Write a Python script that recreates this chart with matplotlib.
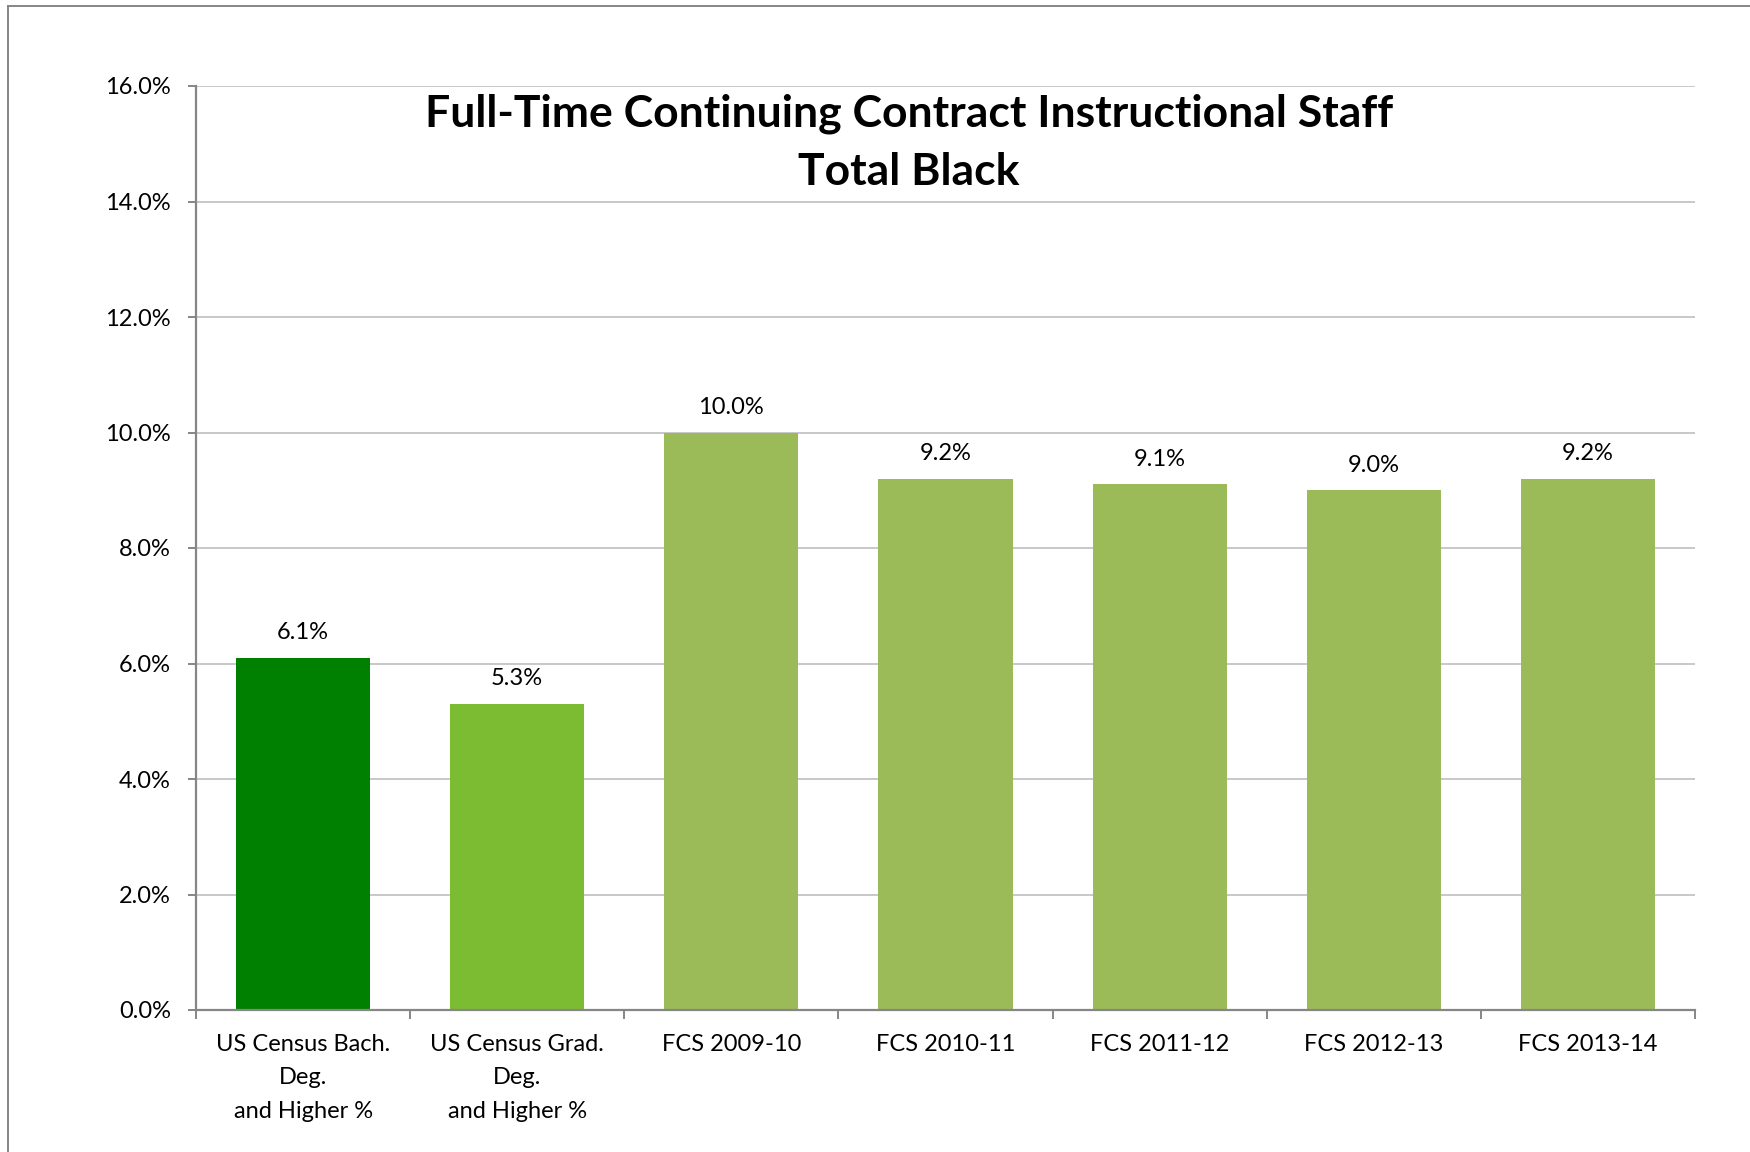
import matplotlib.pyplot as plt
import numpy as np
from matplotlib.lines import Line2D
from matplotlib.ticker import FixedLocator, FuncFormatter

categories = [
    "US Census Bach.\nDeg.\nand Higher %",
    "US Census Grad.\nDeg.\nand Higher %",
    "FCS 2009-10",
    "FCS 2010-11",
    "FCS 2011-12",
    "FCS 2012-13",
    "FCS 2013-14",
]
values = [6.1, 5.3, 10.0, 9.2, 9.1, 9.0, 9.2]
bar_colors = ["#008000", "#7BBC32", "#9BBB59", "#9BBB59", "#9BBB59", "#9BBB59", "#9BBB59"]
title_lines = ["Full-Time Continuing Contract Instructional Staff", "Total Black"]
y_ticks = [0, 2, 4, 6, 8, 10, 12, 14, 16]

FONT = ["Lato", "DejaVu Sans"]
SPINE = "#868686"
GRID = "#BFBFBF"

plt.rcParams["font.family"] = FONT

fig = plt.figure(figsize=(17.5, 11.52), dpi=100)
fig.patch.set_facecolor("white")
ax = fig.add_axes([196 / 1750, 1 - 1010 / 1152, (1695 - 196) / 1750, (1010 - 86) / 1152])

# outer chart border (cut off at right and bottom like the source)
fig.add_artist(Line2D([8 / 1750, 1.01], [1 - 6 / 1152] * 2, color=SPINE, lw=1.4,
                      transform=fig.transFigure))
fig.add_artist(Line2D([8 / 1750] * 2, [-0.01, 1 - 6 / 1152], color=SPINE, lw=1.4,
                      transform=fig.transFigure))

x = np.arange(len(categories))
ax.bar(x, values, width=0.626, color=bar_colors, zorder=3)

for xi, v in zip(x, values):
    ax.annotate(f"{v:.1f}%", (xi, v), xytext=(0, 18), textcoords="offset points",
                ha="center", va="center", fontsize=17, color="black")

ax.set_xlim(-0.5, len(categories) - 0.5)
ax.set_ylim(0, 16)
ax.set_yticks(y_ticks)
ax.yaxis.set_major_formatter(FuncFormatter(lambda v, _: f"{v:.1f}%"))
ax.grid(axis="y", color=GRID, lw=1.2, zorder=0)

ax.set_xticks(x)
ax.set_xticklabels(categories, fontsize=17, linespacing=1.75)
ax.xaxis.set_minor_locator(FixedLocator(np.arange(-0.5, len(categories), 1.0)))
ax.tick_params(axis="x", which="major", length=0, pad=17)
ax.tick_params(axis="x", which="minor", length=6.5, width=1.4, color=SPINE, direction="out")
ax.tick_params(axis="y", length=6, width=1.4, color=SPINE, pad=12, labelsize=17)

for side in ("top", "right"):
    ax.spines[side].set_visible(False)
for side in ("left", "bottom"):
    ax.spines[side].set_color(SPINE)
    ax.spines[side].set_linewidth(1.6)
    ax.spines[side].set_zorder(4)

fig.text(909 / 1750, 1 - 114 / 1152, title_lines[0], ha="center", va="center",
         fontsize=32, fontweight="bold")
fig.text(909 / 1750, 1 - 172 / 1152, title_lines[1], ha="center", va="center",
         fontsize=32, fontweight="bold")

fig.savefig("out.png", dpi=100, facecolor="white")
